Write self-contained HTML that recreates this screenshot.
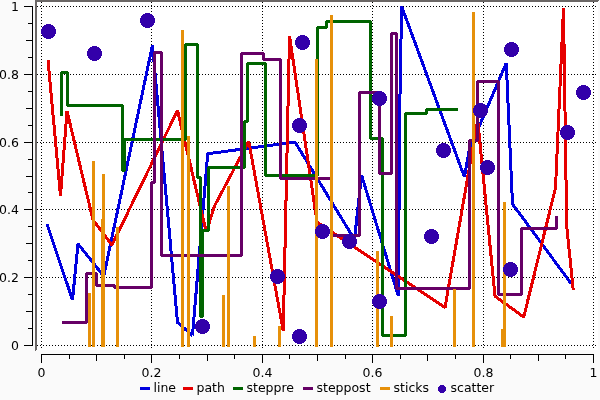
<!DOCTYPE html>
<html><head><meta charset="utf-8"><title>plot</title>
<style>
html,body{margin:0;padding:0;background:#fafafa;}
body{width:600px;height:400px;overflow:hidden;position:relative;font-family:"DejaVu Sans","Liberation Sans",sans-serif;}
svg{position:absolute;left:0;top:0;display:block;will-change:transform}
text{font-family:"DejaVu Sans","Liberation Sans",sans-serif;fill:#000}
.tk{font-size:12.5px}
.lg{font-size:12.5px}
</style></head><body>
<svg width="600" height="400" viewBox="0 0 600 400">
<rect x="0" y="0" width="600" height="400" fill="#fafafa"/>
<rect x="35" y="0" width="563" height="350" fill="#fff"/>
<polygon points="35,0 599,0 597,2 37,2 37,349 35,351" fill="#6b6766" shape-rendering="crispEdges"/>

<g stroke="#000" stroke-width="1" stroke-dasharray="1 2" shape-rendering="crispEdges">
<line x1="41.5" y1="2" x2="41.5" y2="350"/>
<line x1="37" y1="345.5" x2="598" y2="345.5"/>
<line x1="151.5" y1="2" x2="151.5" y2="350"/>
<line x1="37" y1="277.5" x2="598" y2="277.5"/>
<line x1="262.5" y1="2" x2="262.5" y2="350"/>
<line x1="37" y1="209.5" x2="598" y2="209.5"/>
<line x1="372.5" y1="2" x2="372.5" y2="350"/>
<line x1="37" y1="142.5" x2="598" y2="142.5"/>
<line x1="483.5" y1="2" x2="483.5" y2="350"/>
<line x1="37" y1="74.5" x2="598" y2="74.5"/>
<line x1="593.5" y1="2" x2="593.5" y2="350"/>
<line x1="37" y1="6.5" x2="598" y2="6.5"/>
</g>
<g stroke="#000" stroke-width="1" shape-rendering="crispEdges" fill="none">
<line x1="32.5" y1="6" x2="32.5" y2="346"/>
<line x1="41" y1="354.5" x2="594" y2="354.5"/>
<line x1="41.5" y1="354" x2="41.5" y2="363"/>
<line x1="24" y1="345.5" x2="33" y2="345.5"/>
<line x1="69.5" y1="354" x2="69.5" y2="359"/>
<line x1="28" y1="328.5" x2="33" y2="328.5"/>
<line x1="96.5" y1="354" x2="96.5" y2="361"/>
<line x1="26" y1="311.5" x2="33" y2="311.5"/>
<line x1="124.5" y1="354" x2="124.5" y2="359"/>
<line x1="28" y1="294.5" x2="33" y2="294.5"/>
<line x1="151.5" y1="354" x2="151.5" y2="363"/>
<line x1="24" y1="277.5" x2="33" y2="277.5"/>
<line x1="179.5" y1="354" x2="179.5" y2="359"/>
<line x1="28" y1="260.5" x2="33" y2="260.5"/>
<line x1="207.5" y1="354" x2="207.5" y2="361"/>
<line x1="26" y1="243.5" x2="33" y2="243.5"/>
<line x1="234.5" y1="354" x2="234.5" y2="359"/>
<line x1="28" y1="226.5" x2="33" y2="226.5"/>
<line x1="262.5" y1="354" x2="262.5" y2="363"/>
<line x1="24" y1="209.5" x2="33" y2="209.5"/>
<line x1="289.5" y1="354" x2="289.5" y2="359"/>
<line x1="28" y1="192.5" x2="33" y2="192.5"/>
<line x1="317.5" y1="354" x2="317.5" y2="361"/>
<line x1="26" y1="176.5" x2="33" y2="176.5"/>
<line x1="345.5" y1="354" x2="345.5" y2="359"/>
<line x1="28" y1="159.5" x2="33" y2="159.5"/>
<line x1="372.5" y1="354" x2="372.5" y2="363"/>
<line x1="24" y1="142.5" x2="33" y2="142.5"/>
<line x1="400.5" y1="354" x2="400.5" y2="359"/>
<line x1="28" y1="125.5" x2="33" y2="125.5"/>
<line x1="427.5" y1="354" x2="427.5" y2="361"/>
<line x1="26" y1="108.5" x2="33" y2="108.5"/>
<line x1="455.5" y1="354" x2="455.5" y2="359"/>
<line x1="28" y1="91.5" x2="33" y2="91.5"/>
<line x1="483.5" y1="354" x2="483.5" y2="363"/>
<line x1="24" y1="74.5" x2="33" y2="74.5"/>
<line x1="510.5" y1="354" x2="510.5" y2="359"/>
<line x1="28" y1="57.5" x2="33" y2="57.5"/>
<line x1="538.5" y1="354" x2="538.5" y2="361"/>
<line x1="26" y1="40.5" x2="33" y2="40.5"/>
<line x1="565.5" y1="354" x2="565.5" y2="359"/>
<line x1="28" y1="23.5" x2="33" y2="23.5"/>
<line x1="593.5" y1="354" x2="593.5" y2="363"/>
<line x1="24" y1="6.5" x2="33" y2="6.5"/>
</g>
<text class="tk" x="41.5" y="377" text-anchor="middle">0</text>
<text class="tk" x="19" y="350" text-anchor="end">0</text>
<text class="tk" x="151.5" y="377" text-anchor="middle">0.2</text>
<text class="tk" x="19" y="282" text-anchor="end">0.2</text>
<text class="tk" x="262.5" y="377" text-anchor="middle">0.4</text>
<text class="tk" x="19" y="214" text-anchor="end">0.4</text>
<text class="tk" x="372.5" y="377" text-anchor="middle">0.6</text>
<text class="tk" x="19" y="147" text-anchor="end">0.6</text>
<text class="tk" x="483.5" y="377" text-anchor="middle">0.8</text>
<text class="tk" x="19" y="79" text-anchor="end">0.8</text>
<text class="tk" x="593.5" y="377" text-anchor="middle">1</text>
<text class="tk" x="19" y="11" text-anchor="end">1</text>
<g fill="none" stroke-width="3" shape-rendering="crispEdges" stroke-linejoin="bevel" stroke-linecap="square">
<polyline stroke="#0000e0" stroke-linecap="butt" points="47,224.25 72.5,300 78,243.75 103.75,276.25 152.5,45 177.5,322.5 192.5,335.5 207.7,153.75 295,142 354.5,239.5 361.5,175 398.3,296 399.92,100 401.6,6.25 464.4,177 469.5,149 506.25,63 512.5,204 571.25,283.75"/>
<polyline stroke="#e60000" stroke-linecap="butt" points="48,60 60.5,196 67,111 93,220 112,245 177.5,110.5 206.25,232 214.5,206 248.75,141.25 283.25,331 289.5,35.75 317,222 445,307.5 477.7,120 495,296.25 523.75,317 555.5,188 563.5,8 566.7,226 573.25,290"/>
<polyline stroke="#006400" points="61.5,114.5 61.5,72.5 67.5,72.5 67.5,105.5 122.5,105.5 122.5,170.5 124.5,170.5 124.5,139.5 185.5,139.5 185.5,44.5 197.5,44.5 197.5,177.5 200.5,177.5 200.5,316.5 202.5,316.5 202.5,230.5 208.5,230.5 208.5,167.5 244.5,167.5 244.5,121.5 247.5,121.5 247.5,63.5 265.5,63.5 265.5,175.5 317.5,175.5 317.5,27.5 326.5,27.5 326.5,21.5 370.5,21.5 370.5,138.5 382.5,138.5 382.5,335.5 405.5,335.5 405.5,113.5 426.5,113.5 426.5,109.5 456.5,109.5"/>
<polyline stroke="#660066" points="63.5,322.5 86.5,322.5 86.5,273.5 96.5,273.5 96.5,285.5 114.5,285.5 114.5,287.5 151.5,287.5 151.5,182.5 154.5,182.5 154.5,52.5 161.5,52.5 161.5,255.5 241.5,255.5 241.5,53.5 263.5,53.5 263.5,59.5 280.5,59.5 280.5,178.5 331.5,178.5 331.5,235.5 359.5,235.5 359.5,92.5 379.5,92.5 379.5,173.5 391.5,173.5 391.5,33.5 396.5,33.5 396.5,288.5 469.5,288.5 469.5,140.5 477.5,140.5 477.5,81.5 498.5,81.5 498.5,294.5 521.5,294.5 521.5,228.5 556.5,228.5 556.5,217.5"/>
<g stroke="#e6900a">
<line x1="89.5" y1="294.5" x2="89.5" y2="345.5"/>
<line x1="93.5" y1="162.5" x2="93.5" y2="345.5"/>
<line x1="102.5" y1="220.5" x2="102.5" y2="345.5"/>
<line x1="103.5" y1="175.5" x2="103.5" y2="345.5"/>
<line x1="117.5" y1="228.5" x2="117.5" y2="345.5"/>
<line x1="182.5" y1="31.5" x2="182.5" y2="345.5"/>
<line x1="188.5" y1="137.5" x2="188.5" y2="345.5"/>
<line x1="223.5" y1="296.5" x2="223.5" y2="345.5"/>
<line x1="228.5" y1="187.5" x2="228.5" y2="345.5"/>
<line x1="254.5" y1="337.5" x2="254.5" y2="345.5"/>
<line x1="279.5" y1="327.5" x2="279.5" y2="345.5"/>
<line x1="316.5" y1="60.5" x2="316.5" y2="345.5"/>
<line x1="331.5" y1="16.5" x2="331.5" y2="345.5"/>
<line x1="377.5" y1="252.5" x2="377.5" y2="345.5"/>
<line x1="391.5" y1="317.5" x2="391.5" y2="345.5"/>
<line x1="454.5" y1="290.5" x2="454.5" y2="345.5"/>
<line x1="473.5" y1="13.5" x2="473.5" y2="345.5"/>
<line x1="502.5" y1="330.5" x2="502.5" y2="345.5"/>
<line x1="504.5" y1="203.5" x2="504.5" y2="345.5"/>
</g></g>
<g fill="#3300aa" shape-rendering="crispEdges">
<circle cx="48.5" cy="31.5" r="7.5"/>
<circle cx="94.5" cy="53.5" r="7.5"/>
<circle cx="147.5" cy="20.5" r="7.5"/>
<circle cx="202.5" cy="326.5" r="7.5"/>
<circle cx="277.5" cy="276.5" r="7.5"/>
<circle cx="299.5" cy="336.5" r="7.5"/>
<circle cx="302.5" cy="42.5" r="7.5"/>
<circle cx="299.5" cy="125.5" r="7.5"/>
<circle cx="322.5" cy="231.5" r="7.5"/>
<circle cx="349.5" cy="241.5" r="7.5"/>
<circle cx="379.5" cy="98.5" r="7.5"/>
<circle cx="379.5" cy="301.5" r="7.5"/>
<circle cx="431.5" cy="236.5" r="7.5"/>
<circle cx="443.5" cy="150.5" r="7.5"/>
<circle cx="480.5" cy="110.5" r="7.5"/>
<circle cx="487.5" cy="167.5" r="7.5"/>
<circle cx="510.5" cy="269.5" r="7.5"/>
<circle cx="511.5" cy="49.5" r="7.5"/>
<circle cx="567.5" cy="132.5" r="7.5"/>
<circle cx="583.5" cy="92.5" r="7.5"/>
</g>
<rect x="140" y="387" width="10" height="3" fill="#0000e0" shape-rendering="crispEdges"/>
<text class="lg" x="153.5" y="392">line</text>
<rect x="183" y="387" width="10" height="3" fill="#e60000" shape-rendering="crispEdges"/>
<text class="lg" x="196.5" y="392">path</text>
<rect x="233" y="387" width="10" height="3" fill="#006400" shape-rendering="crispEdges"/>
<text class="lg" x="246.5" y="392">steppre</text>
<rect x="303" y="387" width="10" height="3" fill="#660066" shape-rendering="crispEdges"/>
<text class="lg" x="316.5" y="392">steppost</text>
<rect x="380" y="387" width="10" height="3" fill="#e6900a" shape-rendering="crispEdges"/>
<text class="lg" x="393.5" y="392">sticks</text>
<circle cx="442" cy="389" r="4" fill="#3300aa" shape-rendering="crispEdges"/>
<text class="lg" x="450.5" y="392">scatter</text>
</svg></body></html>
